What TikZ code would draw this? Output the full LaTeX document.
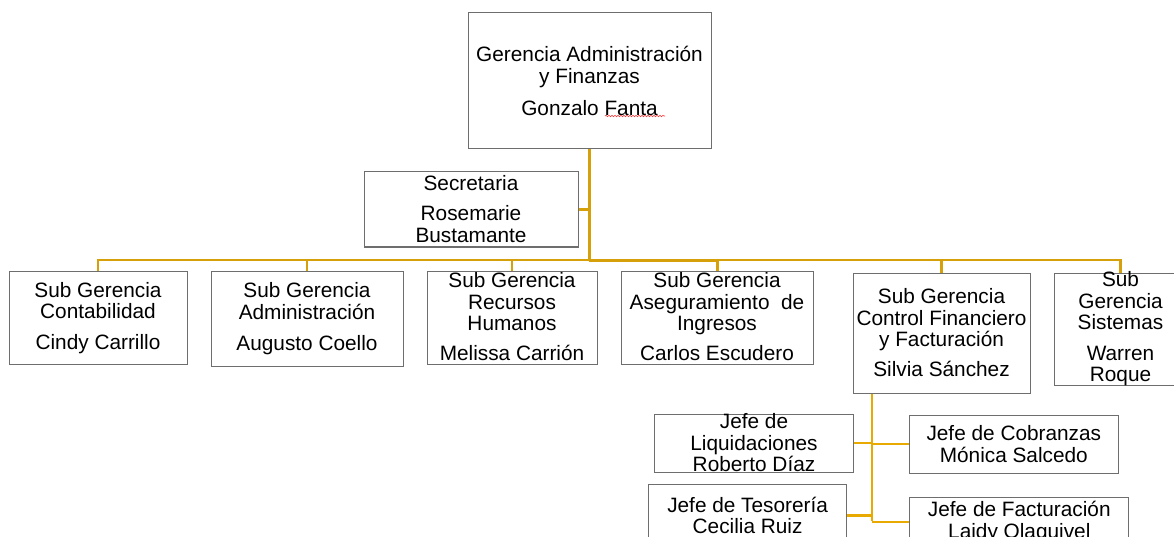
\documentclass[tikz,border=0pt]{standalone}
\usepackage{fontspec}
\setmainfont{Liberation Sans}
\usetikzlibrary{decorations.pathmorphing}
\definecolor{linegold}{RGB}{214,160,10}
\definecolor{linegoldb}{RGB}{232,170,0}
\definecolor{boxgray}{RGB}{110,110,110}
\newcommand\orgfs{\fontsize{20.8}{21.5}\selectfont}
\begin{document}
\begin{tikzpicture}[x=1pt,y=-1pt,
  orgbox/.style={draw=boxgray,line width=1pt,fill=white,inner sep=0pt},
  orgtxt/.style={font=\orgfs,align=center,inner sep=0pt},
  conn/.style={draw=linegold,line width=2.5pt},
  connb/.style={draw=linegoldb,line width=2.5pt}]
\path[use as bounding box,clip] (0,0) rectangle (1174,537);
\fill[white] (0,0) rectangle (1174,537);

% boxes
\node[orgbox,minimum width=243pt,minimum height=136pt] (top) at (589.5,81) {};
\node[orgbox,minimum width=214pt,minimum height=75pt] (sec) at (471,209.5) {};
\node[orgbox,minimum width=178pt,minimum height=93pt] (contab) at (98,317.5) {};
\node[orgbox,minimum width=192pt,minimum height=95pt] (admin) at (307,318.5) {};
\node[orgbox,minimum width=170pt,minimum height=93pt] (rrhh) at (512,317.5) {};
\node[orgbox,minimum width=192pt,minimum height=93pt] (aseg) at (717,317.5) {};
\node[orgbox,minimum width=177pt,minimum height=120pt] (ctrl) at (941.5,333) {};
\node[orgbox,minimum width=133pt,minimum height=112pt] (sist) at (1120.5,329) {};
\node[orgbox,minimum width=199pt,minimum height=58pt] (liq) at (754,443) {};
\node[orgbox,minimum width=209.5pt,minimum height=58pt] (cob) at (1013.8,444) {};
\node[orgbox,minimum width=198pt,minimum height=63pt] (tes) at (747.6,515.5) {};
\node[orgbox,minimum width=219pt,minimum height=49pt] (fact) at (1019.3,522) {};

% connectors
\coordinate (j) at (589,260);
\coordinate (k) at (872,521);
\draw[conn,line width=3.5pt] (top.south) -- (top.south |- j);
\draw[conn] (sec.east) -- (sec.east -| j);
\draw[conn] (contab.north) |- (j);
\draw[conn] (admin.north) |- (j);
\draw[conn] (rrhh.north) |- (j);
\draw[conn,line width=3pt] (aseg.north) |- (j);
\draw[conn] (ctrl.north) |- (j);
\draw[conn] (sist.north) |- (j);
\draw[connb] (ctrl.south -| k) -- (k);
\draw[connb] (liq.east) -- (liq.east -| k);
\draw[connb] (cob.west) -- (cob.west -| k);
\draw[connb] (tes.east) -- (tes.east -| k);
\draw[connb] (fact.west) -- (fact.west -| k);

% texts
\node[orgtxt] (topt) at (589.5,81) {Gerencia Administración\\y Finanzas\\[11pt]Gonzalo Fanta};
\draw[red!80!white,line width=0.6pt,decorate,decoration={snake,amplitude=0.7pt,segment length=3pt}] (605,116) -- (665,116);
\node[orgtxt] (sect) at (471,209) {Secretaria\\[8.5pt]Rosemarie\\Bustamante};
\node[orgtxt] (contabt) at (98,318) {Sub Gerencia\\Contabilidad\\[9.5pt]Cindy Carrillo};
\node[orgtxt] (admint) at (307,318.5) {Sub Gerencia\\Administración\\[9.5pt]Augusto Coello};
\node[orgtxt] (rrhht) at (512,317) {Sub Gerencia\\Recursos\\Humanos\\[8.5pt]Melissa Carrión};
\node[orgtxt] (asegt) at (717,317) {Sub Gerencia\\Aseguramiento\ \ de\\Ingresos\\[8.5pt]Carlos Escudero};
\node[orgtxt] (ctrlt) at (941.5,332.5) {Sub Gerencia\\Control Financiero\\y Facturación\\[8pt]Silvia Sánchez};
\node[orgtxt] (sistt) at (1120.5,329) {Sub\\Gerencia\\Sistemas\\[9pt]Warren\\Roque};
\node[orgtxt] (liqt) at (754,443) {Jefe de\\Liquidaciones\\Roberto Díaz};
\node[orgtxt] (cobt) at (1013.8,444) {Jefe de Cobranzas\\Mónica Salcedo};
\node[orgtxt] (test) at (747.6,515.5) {Jefe de Tesorería\\Cecilia Ruiz};
\node[orgtxt] (factt) at (1019.3,522) {Jefe de Facturación\\Laidy Olaguivel};
\end{tikzpicture}
\end{document}
